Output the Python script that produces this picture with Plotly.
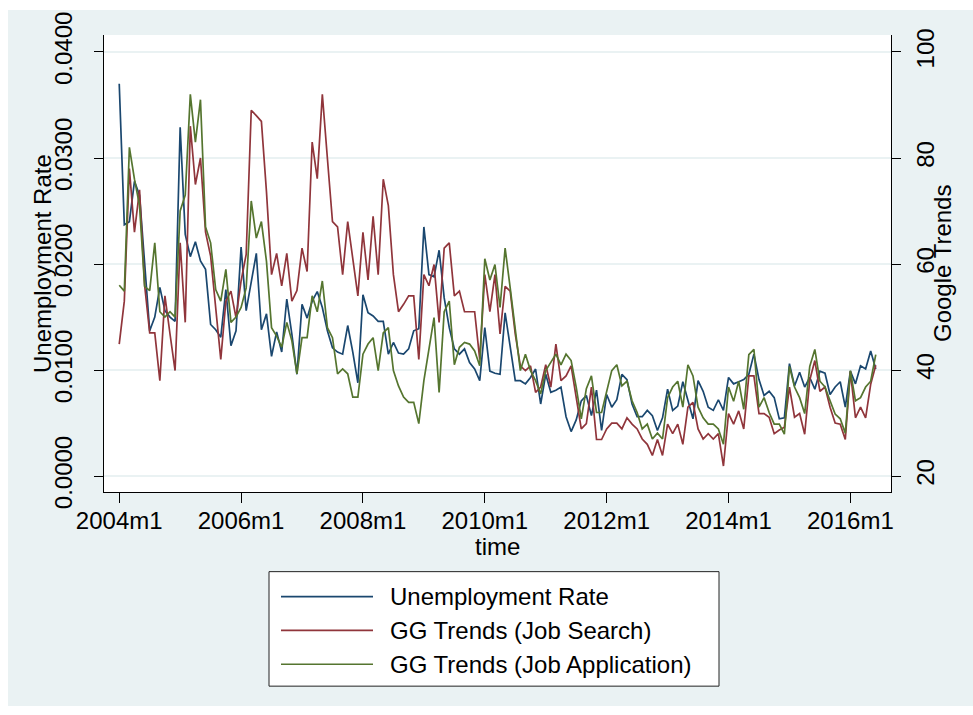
import plotly.graph_objects as go

# Monthly series, 2004m1 .. 2016m6
months = [f"{y}m{m}" for y in range(2004, 2017) for m in range(1, 13)][:150]

unemployment_rate = [
    0.0370, 0.0237, 0.0240, 0.0278, 0.0265, 0.0200, 0.0137, 0.0150, 0.0178, 0.0156,
    0.0150, 0.0146, 0.0329, 0.0228, 0.0207, 0.0221, 0.0203, 0.0195, 0.0143, 0.0138,
    0.0131, 0.0176, 0.0123, 0.0137, 0.0216, 0.0156, 0.0184, 0.0210, 0.0138, 0.0153,
    0.0113, 0.0136, 0.0117, 0.0167, 0.0134, 0.0096, 0.0162, 0.0149, 0.0165, 0.0174,
    0.0159, 0.0137, 0.0121, 0.0117, 0.0115, 0.0142, 0.0117, 0.0088, 0.0171, 0.0154,
    0.0151, 0.0146, 0.0146, 0.0115, 0.0126, 0.0116, 0.0115, 0.0120, 0.0137, 0.0139,
    0.0235, 0.0190, 0.0188, 0.0213, 0.0168, 0.0140, 0.0120, 0.0115, 0.0120, 0.0107,
    0.0101, 0.0090, 0.0140, 0.0099, 0.0097, 0.0096, 0.0154, 0.0121, 0.0090, 0.0090,
    0.0087, 0.0093, 0.0101, 0.0068, 0.0096, 0.0079, 0.0081, 0.0084, 0.0056, 0.0042,
    0.0053, 0.0071, 0.0076, 0.0057, 0.0081, 0.0043, 0.0077, 0.0065, 0.0072, 0.0096,
    0.0091, 0.0068, 0.0056, 0.0056, 0.0062, 0.0057, 0.0043, 0.0055, 0.0082, 0.0062,
    0.0066, 0.0089, 0.0071, 0.0054, 0.0090, 0.0080, 0.0065, 0.0062, 0.0072, 0.0062,
    0.0093, 0.0087, 0.0089, 0.0091, 0.0096, 0.0115, 0.0091, 0.0076, 0.0080, 0.0074,
    0.0054, 0.0055, 0.0106, 0.0085, 0.0098, 0.0084, 0.0093, 0.0082, 0.0099, 0.0097,
    0.0077, 0.0084, 0.0089, 0.0065, 0.0099, 0.0087, 0.0104, 0.0101, 0.0118, 0.0101,
]

gg_job_search = [
    44.9, 53.0, 78.0, 66.0, 74.0, 56.0, 47.0, 47.0, 38.0, 54.0,
    46.8, 39.9, 64.0, 49.0, 86.0, 75.0, 80.0, 66.0, 61.5, 52.4,
    42.0, 53.0, 54.9, 49.9, 56.8, 61.8, 89.0, 88.0, 86.9, 73.6,
    58.0, 62.0, 55.9, 62.0, 53.0, 55.0, 63.0, 58.6, 83.0, 76.1,
    92.0, 79.9, 68.0, 67.0, 58.0, 68.0, 61.0, 54.0, 66.0, 57.0,
    69.0, 58.0, 76.0, 71.0, 58.0, 51.0, 52.4, 54.0, 54.0, 42.0,
    58.0, 55.9, 59.9, 49.0, 63.0, 64.0, 54.0, 54.9, 51.0, 51.0,
    51.0, 42.0, 58.0, 51.0, 58.0, 46.8, 55.8, 54.9, 46.8, 40.8,
    39.9, 40.8, 35.8, 36.8, 41.0, 36.8, 44.9, 38.0, 38.9, 40.8,
    34.9, 28.9, 29.9, 36.8, 26.9, 26.9, 28.9, 30.0, 30.0, 28.9,
    31.0, 29.8, 28.9, 27.0, 26.0, 23.9, 26.9, 23.9, 29.8, 28.0,
    29.8, 26.0, 33.0, 33.9, 28.9, 27.0, 28.0, 27.0, 28.0, 21.9,
    31.8, 29.8, 32.3, 28.9, 38.9, 38.9, 31.8, 31.8, 31.1, 28.0,
    28.7, 29.2, 36.8, 31.1, 31.8, 27.9, 38.1, 41.8, 36.0, 36.8,
    33.0, 30.0, 29.8, 26.9, 39.7, 31.0, 33.0, 31.0, 37.3, 40.9,
]

gg_job_application = [
    56.0, 54.9, 82.0, 76.0, 71.0, 55.8, 55.0, 64.0, 51.0, 50.0,
    51.0, 50.0, 70.0, 73.0, 92.0, 83.0, 91.0, 67.0, 64.0, 55.2,
    53.0, 59.0, 49.0, 50.0, 51.8, 55.5, 71.9, 64.9, 68.0, 60.5,
    48.0, 46.4, 44.3, 49.0, 45.5, 39.3, 46.1, 46.1, 54.0, 51.0,
    56.8, 48.0, 46.1, 39.3, 40.2, 39.3, 34.9, 34.9, 43.0, 44.9,
    46.1, 39.9, 47.0, 48.0, 39.9, 37.0, 34.9, 33.9, 33.9, 29.9,
    38.0, 44.3, 49.9, 35.8, 51.0, 53.0, 41.0, 44.3, 45.2, 44.9,
    43.6, 40.8, 61.0, 57.0, 59.9, 51.8, 63.0, 55.5, 47.4, 39.9,
    43.0, 39.9, 38.0, 35.5, 39.9, 41.4, 43.0, 41.0, 43.0, 41.8,
    36.8, 30.8, 36.5, 38.9, 32.0, 32.0, 35.8, 39.9, 41.0, 37.0,
    37.9, 34.2, 32.0, 28.9, 29.8, 27.0, 28.1, 27.0, 34.8, 36.8,
    37.9, 33.0, 41.0, 38.9, 33.0, 31.0, 29.8, 29.8, 28.9, 26.0,
    36.8, 34.1, 37.9, 32.6, 42.9, 43.9, 33.0, 34.8, 32.0, 29.8,
    29.8, 27.9, 40.7, 36.8, 34.8, 31.8, 40.7, 43.9, 37.9, 36.8,
    34.2, 31.7, 30.8, 28.1, 39.9, 34.2, 34.8, 36.8, 37.9, 42.9,
]

series_names = ["Unemployment Rate", "GG Trends (Job Search)", "GG Trends (Job Application)"]
series_colors = ["#1a476f", "#90353b", "#55752f"]

x_ticks = ["2004m1", "2006m1", "2008m1", "2010m1", "2012m1", "2014m1", "2016m1"]
left_ticks = [0.0, 0.01, 0.02, 0.03, 0.04]
right_ticks = [20, 40, 60, 80, 100]

x_title = "time"
left_title = "Unemployment Rate"
right_title = "Google Trends"

W, H = 973, 715
PL, PR, PT, PB = 104, 891, 33, 492   # plot area edges in px
BG = "#eaf2f3"
FONT = "Liberation Sans, Arial, Helvetica, sans-serif"
TXT = dict(family=FONT, size=24, color="black")


def px_x(px):
    return (px - PL) / (PR - PL)


def px_y(py):
    return (PB - py) / (PB - PT)


fig = go.Figure()
fig.add_trace(go.Scatter(x=months, y=unemployment_rate, mode="lines",
                         name=series_names[0], line=dict(color=series_colors[0], width=1.7)))
fig.add_trace(go.Scatter(x=months, y=gg_job_search, mode="lines", yaxis="y2",
                         name=series_names[1], line=dict(color=series_colors[1], width=1.7)))
fig.add_trace(go.Scatter(x=months, y=gg_job_application, mode="lines", yaxis="y2",
                         name=series_names[2], line=dict(color=series_colors[2], width=1.7)))

shapes = [
    # outer graph region
    dict(type="rect", xref="paper", yref="paper", layer="below",
         x0=px_x(8), x1=px_x(W + 5), y0=px_y(707), y1=px_y(8),
         fillcolor=BG, line=dict(width=0)),
    # white plot region
    dict(type="rect", xref="paper", yref="paper", layer="below",
         x0=0, x1=1, y0=0, y1=1, fillcolor="white", line=dict(width=0)),
    # legend box
    dict(type="rect", xref="paper", yref="paper",
         x0=px_x(269), x1=px_x(719), y0=px_y(687), y1=px_y(572),
         fillcolor="white", line=dict(color="#222222", width=1)),
]

# axis titles
annotations = [
    dict(xref="paper", yref="paper", x=px_x(497), y=px_y(547), text=x_title,
         xanchor="center", yanchor="middle", showarrow=False, font=TXT),
    dict(xref="paper", yref="paper", x=px_x(43), y=px_y(263), text=left_title,
         textangle=-90, xanchor="center", yanchor="middle", showarrow=False, font=TXT),
    dict(xref="paper", yref="paper", x=px_x(943), y=px_y(263), text=right_title,
         textangle=-90, xanchor="center", yanchor="middle", showarrow=False, font=TXT),
]

# legend rows
row_y = [597, 631, 665]
for name, color, ry in zip(series_names, series_colors, row_y):
    shapes.append(dict(type="line", xref="paper", yref="paper",
                       x0=px_x(281), x1=px_x(373), y0=px_y(ry), y1=px_y(ry),
                       line=dict(color=color, width=1.7)))
    annotations.append(dict(xref="paper", yref="paper", x=px_x(388), y=px_y(ry),
                            xanchor="left", yanchor="middle", showarrow=False,
                            text=name, font=TXT))

fig.update_layout(
    width=W, height=H,
    margin=dict(l=PL, r=W - PR, t=PT, b=H - PB, pad=0),
    paper_bgcolor="white", plot_bgcolor="rgba(0,0,0,0)",
    font=TXT,
    showlegend=False,
    shapes=shapes, annotations=annotations,
    xaxis=dict(
        type="category", range=[-3, 152],
        tickmode="array", tickvals=x_ticks, ticktext=x_ticks,
        ticks="outside", ticklen=10, tickcolor="black", tickwidth=1,
        ticklabelstandoff=-3,
        showline=True, linecolor="black", linewidth=1, mirror=False,
        showgrid=False, zeroline=False, tickfont=TXT,
    ),
    yaxis=dict(
        range=[-0.0015, 0.0416],
        tickmode="array", tickvals=left_ticks, tickformat=".4f",
        tickangle=-90, ticklabelstandoff=12, tickfont=TXT,
        ticks="outside", ticklen=9, tickcolor="black", tickwidth=1,
        showline=True, linecolor="black", linewidth=1,
        showgrid=True, gridcolor=BG, gridwidth=1.5, zeroline=False,
    ),
    yaxis2=dict(
        overlaying="y", side="right",
        range=[17.0, 103.2],
        tickmode="array", tickvals=right_ticks,
        tickangle=-90, ticklabelstandoff=4, tickfont=TXT,
        ticks="outside", ticklen=9, tickcolor="black", tickwidth=1,
        showline=True, linecolor="black", linewidth=1,
        showgrid=False, zeroline=False,
    ),
)

fig.write_html("out.html")
